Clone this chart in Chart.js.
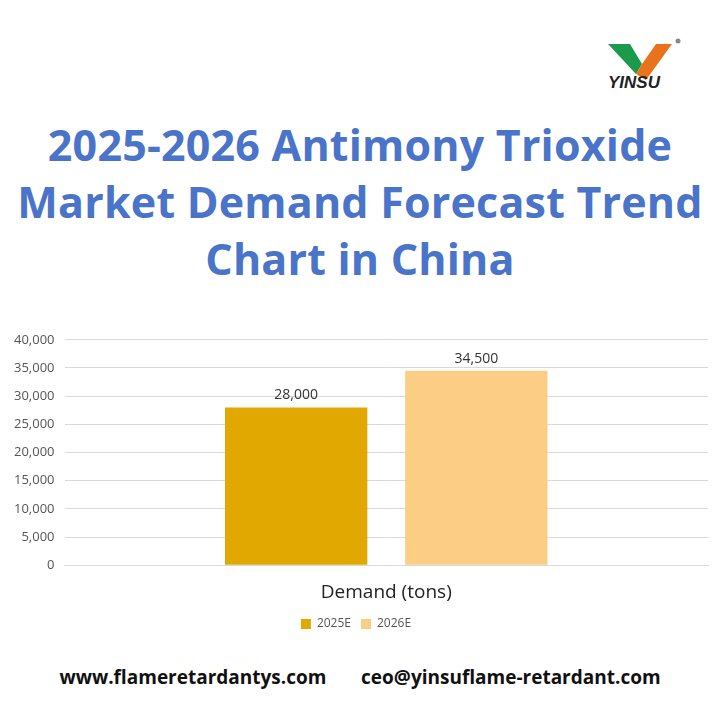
<!DOCTYPE html>
<html><head><meta charset="utf-8">
<script src="https://cdn.jsdelivr.net/npm/chart.js@4"></script>
<style>
body{margin:0;width:720px;height:720px;background:#fff;font-family:"Open Sans",sans-serif;position:relative;overflow:hidden}
#title{position:absolute;top:116px;left:0;width:720px;text-align:center;color:#4a74c9;font:bold 43px/57px "Open Sans",sans-serif;letter-spacing:0.2px}
#wrap{position:absolute;left:0;top:322px;width:720px;height:318px}
#foot{position:absolute;top:664px;left:0;width:720px;text-align:center;font:bold 19px "Open Sans",sans-serif;color:#111;word-spacing:2px}
#logo{position:absolute;left:600px;top:36px}
</style></head><body>
<svg id="logo" width="90" height="60">
<polygon points="8,8 30,8 42,28 36,38" fill="#1a9a4a"/>
<polygon points="36,38 42,28 56,8 72,8 46,44" fill="#e8731c"/>
<circle cx="78" cy="5" r="2.5" fill="#888"/>
<text x="8" y="52" font-family="Liberation Sans" font-style="italic" font-weight="bold" font-size="17" fill="#222">YINSU</text>
</svg>
<div id="title">2025-2026 Antimony Trioxide<br>Market Demand Forecast Trend<br>Chart in China</div>
<div id="wrap"><canvas id="c"></canvas></div>
<div id="foot">www.flameretardantys.com &nbsp;&nbsp;&nbsp; ceo@yinsuflame-retardant.com</div>
<script>
const categories = ['Demand (tons)'];
const seriesNames = ['2025E', '2026E'];
const values2025 = [28000];
const values2026 = [34500];

Chart.defaults.font.family = '"Open Sans", sans-serif';

const labelPlugin = {
  id: 'vals',
  afterDatasetsDraw(chart) {
    const ctx = chart.ctx;
    ctx.save();
    ctx.font = '14px "Open Sans", sans-serif';
    ctx.fillStyle = '#333';
    ctx.textAlign = 'center';
    chart.data.datasets.forEach((ds, i) => {
      chart.getDatasetMeta(i).data.forEach((bar, j) => {
        ctx.fillText(ds.data[j].toLocaleString('en-US'), bar.x, bar.y - 12);
      });
    });
    ctx.restore();
  }
};

new Chart(document.getElementById('c'), {
  type: 'bar',
  data: {
    labels: categories,
    datasets: [
      { label: seriesNames[0], data: values2025, backgroundColor: '#e0a800' },
      { label: seriesNames[1], data: values2026, backgroundColor: '#fbcd85' }
    ]
  },
  options: {
    responsive: true, maintainAspectRatio: false, animation: false,
    layout: { padding: { left: 4, right: 12, top: 8 } },
    categoryPercentage: 0.56, barPercentage: 0.79,
    scales: {
      y: {
        min: 0, max: 40000,
        ticks: { stepSize: 5000, color: '#555', font: { size: 13 }, padding: 10,
          callback: v => v.toLocaleString('en-US') },
        grid: { color: '#d9d9d9', drawTicks: false },
        border: { display: false }
      },
      x: {
        ticks: { display: false },
        grid: { display: false },
        border: { color: '#d9d9d9' },
        title: { display: true, text: 'Demand (tons)', color: '#222', font: { size: 19 }, padding: { top: 8 } }
      }
    },
    plugins: {
      legend: { position: 'bottom', labels: { boxWidth: 10, boxHeight: 10, color: '#555', font: { size: 12 } } },
      tooltip: { enabled: false }
    }
  },
  plugins: [labelPlugin]
});
</script>
</body></html>
